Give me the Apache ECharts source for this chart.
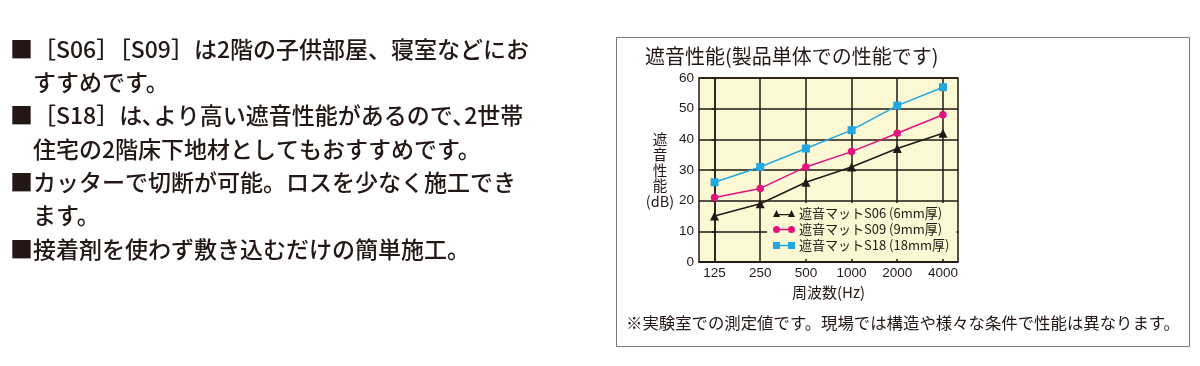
<!DOCTYPE html>
<html>
<head>
<meta charset="utf-8">
<script src="https://cdn.jsdelivr.net/npm/echarts@6/dist/echarts.min.js"></script>
<style>
html,body{margin:0;padding:0;background:#fff;}
#c{width:1200px;height:366px;}
</style>
</head>
<body>
<div id="c"></div>
<script>
const categories = ['125', '250', '500', '1000', '2000', '4000'];
const s06 = [15, 19, 26, 31, 37, 42];
const s09 = [21, 24, 31, 36, 42, 48];
const s18 = [26, 31, 37, 43, 51, 57];
const seriesNames = ['遮音マットS06 (6mm厚)', '遮音マットS09 (9mm厚)', '遮音マットS18 (18mm厚)'];
const bulletLines = [
  '■［S06］［S09］は2階の子供部屋、寝室などにお',
  'すすめです。',
  '■［S18］は､より高い遮音性能があるので､2世帯',
  '住宅の2階床下地材としてもおすすめです。',
  '■カッターで切断が可能。ロスを少なく施工でき',
  'ます。',
  '■接着剤を使わず敷き込むだけの簡単施工。'
];
const chartTitle = '遮音性能(製品単体での性能です)';
const noteText = '※実験室での測定値です。現場では構造や様々な条件で性能は異なります。';

const INK = '#231815';
const CJK = '"Noto Sans CJK JP", "Noto Sans", sans-serif';
const NUM = '"Liberation Sans", Arial, sans-serif';

const iconTri = 'path://M0 7 L3.5 0 L7 7 Z M3.5 4 L18.5 4 L18.5 5.3 L3.5 5.3 Z M15 7 L18.5 0 L22 7 Z';
const iconCir = 'path://M0 3.5 A3.5 3.5 0 1 1 7 3.5 A3.5 3.5 0 1 1 0 3.5 Z M3.5 2.85 L18.5 2.85 L18.5 4.15 L3.5 4.15 Z M15 3.5 A3.5 3.5 0 1 1 22 3.5 A3.5 3.5 0 1 1 15 3.5 Z';
const iconSq = 'path://M0 0 L7 0 L7 7 L0 7 Z M7 2.85 L15 2.85 L15 4.15 L7 4.15 Z M15 0 L22 0 L22 7 L15 7 Z';

const chart = echarts.init(document.getElementById('c'), null, {renderer: 'canvas'});

const graphics = [];
graphics.push({
  type: 'rect', left: 614, top: 35, z: 0, silent: true,
  shape: {x: 0.5, y: 0.5, width: 573, height: 309},
  style: {fill: 'none', stroke: '#7a7a7a', lineWidth: 1}
});
graphics.push({
  type: 'text', x: 645, y: 56, z: 10,
  style: {text: chartTitle, font: '20px ' + CJK, fill: INK, verticalAlign: 'middle', align: 'left'}
});
graphics.push({
  type: 'text', x: 626, y: 323, z: 10,
  style: {text: noteText, font: '16.4px ' + CJK, fill: INK, verticalAlign: 'middle', align: 'left'}
});
const lineY = [49, 82.3, 115.7, 149, 182.3, 215.7, 249];
bulletLines.forEach(function (t, i) {
  const isBullet = t.charAt(0) === '■';
  graphics.push({
    type: 'text', x: isBullet ? 10 : 33, y: lineY[i], z: 10,
    style: {text: t, font: '500 23px ' + CJK, fill: INK, verticalAlign: 'middle', align: 'left'}
  });
});

const option = {
  backgroundColor: '#ffffff',
  animation: false,
  grid: {
    left: 699, top: 78, width: 259, height: 184,
    show: true, backgroundColor: '#fcf8d3', borderColor: INK, borderWidth: 1.5
  },
  legend: {
    orient: 'vertical',
    left: 767, top: 203,
    padding: [4, 7, 7, 6],
    backgroundColor: '#fcf8d3',
    itemWidth: 22, itemHeight: 7, itemGap: 3,
    textStyle: {fontFamily: CJK, fontSize: 13, color: INK, padding: [0, 0, 0, -1]},
    data: [
      {name: seriesNames[0], icon: iconTri},
      {name: seriesNames[1], icon: iconCir},
      {name: seriesNames[2], icon: iconSq}
    ]
  },
  xAxis: {
    type: 'value',
    min: -0.34, max: 5.33,
    name: '周波数(Hz)', nameLocation: 'middle', nameGap: 20,
    nameTextStyle: {fontFamily: CJK, fontSize: 15, color: INK},
    axisLine: {show: true, lineStyle: {color: INK, width: 1.5}},
    axisTick: {show: false, customValues: [0, 1, 2, 3, 4, 5]},
    axisLabel: {
      customValues: [0, 1, 2, 3, 4, 5],
      margin: 4, fontFamily: NUM, fontSize: 13.5, color: INK,
      formatter: function (v) { const i = Math.round(v); return Math.abs(v - i) < 1e-6 ? (categories[i] || '') : ''; }
    },
    splitLine: {show: true, lineStyle: {color: INK, width: 1.5}}
  },
  yAxis: {
    type: 'value', min: 0, max: 60, interval: 10,
    name: '遮\n音\n性\n能\n(dB)', nameLocation: 'middle', nameRotate: 0, nameGap: 22,
    nameTextStyle: {fontFamily: CJK, fontSize: 14.5, color: INK, lineHeight: 15.5, align: 'center'},
    axisLine: {show: true, lineStyle: {color: INK, width: 1.5}},
    axisTick: {show: true, inside: false, length: 3, lineStyle: {color: INK, width: 1.5}},
    axisLabel: {margin: 5, fontFamily: NUM, fontSize: 13.5, color: INK},
    splitLine: {show: true, lineStyle: {color: INK, width: 1.5}}
  },
  series: [
    {
      name: seriesNames[0], type: 'line', data: s06.map(function (v, i) { return [i, v]; }),
      symbol: 'triangle', symbolSize: 9, color: '#231815',
      lineStyle: {width: 1.5}, itemStyle: {color: '#231815'}
    },
    {
      name: seriesNames[1], type: 'line', data: s09.map(function (v, i) { return [i, v]; }),
      symbol: 'circle', symbolSize: 7.5, color: '#e4127e',
      lineStyle: {width: 1.5}, itemStyle: {color: '#e4127e'}
    },
    {
      name: seriesNames[2], type: 'line', data: s18.map(function (v, i) { return [i, v]; }),
      symbol: 'rect', symbolSize: 8, color: '#22a7e0',
      lineStyle: {width: 1.5}, itemStyle: {color: '#22a7e0'}
    }
  ],
  graphic: graphics
};
chart.setOption(option);
</script>
</body>
</html>
